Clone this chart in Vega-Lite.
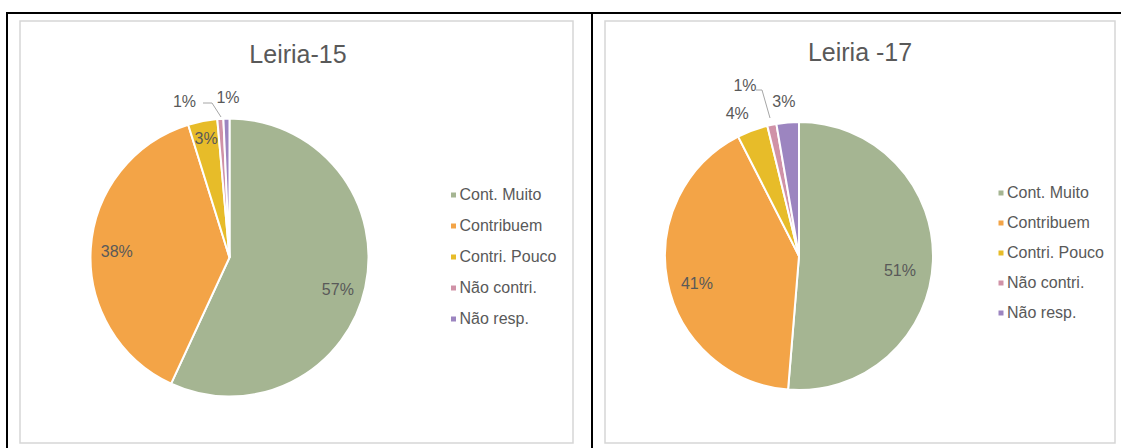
{
  "$schema": "https://vega.github.io/schema/vega-lite/v6.json",
  "background": "white",
  "padding": {"left": 4, "top": 10, "right": 0, "bottom": 0},
  "autosize": {"type": "pad"},
  "bounds": "flush",
  "spacing": 32,
  "datasets": {
    "d15": [
      {"cat": "Cont. Muito", "ord": 1, "value": 0.569},
      {"cat": "Contribuem", "ord": 2, "value": 0.383},
      {"cat": "Contri. Pouco", "ord": 3, "value": 0.034},
      {"cat": "Não contri.", "ord": 4, "value": 0.007},
      {"cat": "Não resp.", "ord": 5, "value": 0.007}
    ],
    "d17": [
      {"cat": "Cont. Muito", "ord": 1, "value": 0.513},
      {"cat": "Contribuem", "ord": 2, "value": 0.412},
      {"cat": "Contri. Pouco", "ord": 3, "value": 0.037},
      {"cat": "Não contri.", "ord": 4, "value": 0.011},
      {"cat": "Não resp.", "ord": 5, "value": 0.027}
    ]
  },
  "config": {
    "view": {"stroke": "#d6d6d6", "strokeWidth": 1.5},
    "font": "Liberation Sans",
    "text": {"font": "Liberation Sans", "fontSize": 16, "color": "#595959"},
    "legend": {
      "symbolType": "square", "symbolSize": 25, "symbolStrokeWidth": 0,
      "labelFont": "Liberation Sans", "labelFontSize": 16, "labelColor": "#595959",
      "labelOffset": -2, "padding": 0, "title": null
    }
  },
  "resolve": {"scale": {"color": "independent", "theta": "independent"}, "legend": {"color": "independent"}},
  "hconcat": [
    {
      "width": 553, "height": 422,
      "view": {"stroke": "#d6d6d6", "strokeWidth": 1.5},
      "data": {"name": "d15"},
      "layer": [
        {"data": {"values": [{}]}, "mark": {"type": "rule", "stroke": "black", "strokeWidth": 2}, "encoding": {"x": {"value": -14}, "x2": {"value": 1101}, "y": {"value": -8}, "y2": {"value": -8}}},
        {"data": {"values": [{}]}, "mark": {"type": "rule", "stroke": "black", "strokeWidth": 2}, "encoding": {"x": {"value": -13}, "x2": {"value": -13}, "y": {"value": -9}, "y2": {"value": 440}}},
        {"data": {"values": [{}]}, "mark": {"type": "rule", "stroke": "black", "strokeWidth": 2}, "encoding": {"x": {"value": 572}, "x2": {"value": 572}, "y": {"value": -9}, "y2": {"value": 440}}},
        {"data": {"values": [{}]}, "mark": {"type": "rule", "stroke": "#a6a6a6", "strokeWidth": 1}, "encoding": {"x": {"value": 183}, "x2": {"value": 192}, "y": {"value": 82}, "y2": {"value": 82}}},
        {"data": {"values": [{}]}, "mark": {"type": "rule", "stroke": "#a6a6a6", "strokeWidth": 1}, "encoding": {"x": {"value": 192}, "x2": {"value": 201}, "y": {"value": 82}, "y2": {"value": 96}}},
        {"data": {"values": [{"t": "Leiria-15"}]}, "mark": {"type": "text", "x": 278, "y": 42, "baseline": "alphabetic", "align": "center", "fontSize": 25, "color": "#595959"}, "encoding": {"text": {"field": "t"}}},
        {
          "mark": {"type": "arc", "x": 209.5, "y": 236.5, "outerRadius": 139, "stroke": "white", "strokeWidth": 2},
          "encoding": {
            "theta": {"field": "value", "type": "quantitative", "stack": true},
            "order": {"field": "ord", "type": "quantitative"},
            "color": {
              "field": "cat", "type": "nominal", "sort": null,
              "scale": {"domain": ["Cont. Muito", "Contribuem", "Contri. Pouco", "Não contri.", "Não resp."], "range": ["#A5B592", "#F3A447", "#E7BC29", "#D092A7", "#9C85C0"]},
              "legend": {"orient": "none", "legendX": 425.5, "legendY": 166, "rowPadding": 15}
            }
          }
        },
        {
          "mark": {"type": "text", "x": 209.5, "y": 236.5, "radius": 113, "dx": -2, "dy": 8},
          "encoding": {
            "theta": {"field": "value", "type": "quantitative", "stack": true},
            "order": {"field": "ord", "type": "quantitative"},
            "detail": {"field": "cat", "type": "nominal"},
            "text": {"condition": {"test": "datum.cat === 'Cont. Muito'", "field": "value", "format": ".0%"}, "value": ""}
          }
        },
        {
          "mark": {"type": "text", "x": 209.5, "y": 236.5, "radius": 113, "dy": 1.5},
          "encoding": {
            "theta": {"field": "value", "type": "quantitative", "stack": true},
            "order": {"field": "ord", "type": "quantitative"},
            "detail": {"field": "cat", "type": "nominal"},
            "text": {"condition": {"test": "datum.cat === 'Contribuem'", "field": "value", "format": ".0%"}, "value": ""}
          }
        },
        {
          "mark": {"type": "text", "x": 209.5, "y": 236.5, "radius": 121},
          "encoding": {
            "theta": {"field": "value", "type": "quantitative", "stack": true},
            "order": {"field": "ord", "type": "quantitative"},
            "detail": {"field": "cat", "type": "nominal"},
            "text": {"condition": {"test": "datum.cat === 'Contri. Pouco'", "field": "value", "format": ".0%"}, "value": ""}
          }
        },
        {
          "mark": {"type": "text", "x": 209.5, "y": 236.5, "radius": 160, "dx": -34.5, "dy": 4},
          "encoding": {
            "theta": {"field": "value", "type": "quantitative", "stack": true},
            "order": {"field": "ord", "type": "quantitative"},
            "detail": {"field": "cat", "type": "nominal"},
            "text": {"condition": {"test": "datum.cat === 'Não contri.'", "field": "value", "format": ".0%"}, "value": ""}
          }
        },
        {
          "mark": {"type": "text", "x": 209.5, "y": 236.5, "radius": 160, "dx": 2},
          "encoding": {
            "theta": {"field": "value", "type": "quantitative", "stack": true},
            "order": {"field": "ord", "type": "quantitative"},
            "detail": {"field": "cat", "type": "nominal"},
            "text": {"condition": {"test": "datum.cat === 'Não resp.'", "field": "value", "format": ".0%"}, "value": ""}
          }
        }
      ]
    },
    {
      "width": 510, "height": 422,
      "view": {"stroke": "#d6d6d6", "strokeWidth": 1.5},
      "data": {"name": "d17"},
      "layer": [
        {"data": {"values": [{}]}, "mark": {"type": "rule", "stroke": "#a6a6a6", "strokeWidth": 1}, "encoding": {"x": {"value": 151}, "x2": {"value": 157}, "y": {"value": 69}, "y2": {"value": 69}}},
        {"data": {"values": [{}]}, "mark": {"type": "rule", "stroke": "#a6a6a6", "strokeWidth": 1}, "encoding": {"x": {"value": 157}, "x2": {"value": 165}, "y": {"value": 69}, "y2": {"value": 97}}},
        {"data": {"values": [{"t": "Leiria -17"}]}, "mark": {"type": "text", "x": 255, "y": 40, "baseline": "alphabetic", "align": "center", "fontSize": 25, "color": "#595959"}, "encoding": {"text": {"field": "t"}}},
        {
          "mark": {"type": "arc", "x": 194, "y": 235, "outerRadius": 134, "stroke": "white", "strokeWidth": 2},
          "encoding": {
            "theta": {"field": "value", "type": "quantitative", "stack": true},
            "order": {"field": "ord", "type": "quantitative"},
            "color": {
              "field": "cat", "type": "nominal", "sort": null,
              "scale": {"domain": ["Cont. Muito", "Contribuem", "Contri. Pouco", "Não contri.", "Não resp."], "range": ["#A5B592", "#F3A447", "#E7BC29", "#D092A7", "#9C85C0"]},
              "legend": {"orient": "none", "legendX": 388, "legendY": 164, "rowPadding": 14}
            }
          }
        },
        {
          "mark": {"type": "text", "x": 194, "y": 235, "radius": 101, "dy": 11},
          "encoding": {
            "theta": {"field": "value", "type": "quantitative", "stack": true},
            "order": {"field": "ord", "type": "quantitative"},
            "detail": {"field": "cat", "type": "nominal"},
            "text": {"condition": {"test": "datum.cat === 'Cont. Muito'", "field": "value", "format": ".0%"}, "value": ""}
          }
        },
        {
          "mark": {"type": "text", "x": 194, "y": 235, "radius": 104, "dy": 8},
          "encoding": {
            "theta": {"field": "value", "type": "quantitative", "stack": true},
            "order": {"field": "ord", "type": "quantitative"},
            "detail": {"field": "cat", "type": "nominal"},
            "text": {"condition": {"test": "datum.cat === 'Contribuem'", "field": "value", "format": ".0%"}, "value": ""}
          }
        },
        {
          "mark": {"type": "text", "x": 194, "y": 235, "radius": 156, "dx": -7.5, "dy": 4},
          "encoding": {
            "theta": {"field": "value", "type": "quantitative", "stack": true},
            "order": {"field": "ord", "type": "quantitative"},
            "detail": {"field": "cat", "type": "nominal"},
            "text": {"condition": {"test": "datum.cat === 'Contri. Pouco'", "field": "value", "format": ".0%"}, "value": ""}
          }
        },
        {
          "mark": {"type": "text", "x": 194, "y": 235, "radius": 170, "dx": -19.5, "dy": -3.5},
          "encoding": {
            "theta": {"field": "value", "type": "quantitative", "stack": true},
            "order": {"field": "ord", "type": "quantitative"},
            "detail": {"field": "cat", "type": "nominal"},
            "text": {"condition": {"test": "datum.cat === 'Não contri.'", "field": "value", "format": ".0%"}, "value": ""}
          }
        },
        {
          "mark": {"type": "text", "x": 194, "y": 235, "radius": 155, "dx": -2},
          "encoding": {
            "theta": {"field": "value", "type": "quantitative", "stack": true},
            "order": {"field": "ord", "type": "quantitative"},
            "detail": {"field": "cat", "type": "nominal"},
            "text": {"condition": {"test": "datum.cat === 'Não resp.'", "field": "value", "format": ".0%"}, "value": ""}
          }
        }
      ]
    }
  ]
}
